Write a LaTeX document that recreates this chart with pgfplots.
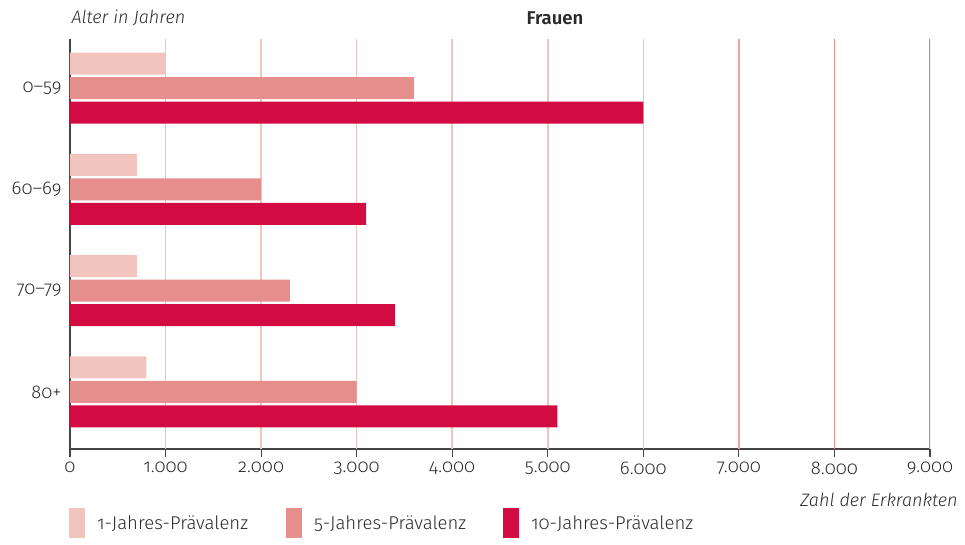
\documentclass[border=0pt]{standalone}
\usepackage{fontspec}
\setmainfont{Fira Sans Light}[Numbers=OldStyle, BoldFont=Fira Sans SemiBold, ItalicFont=Fira Sans Light Italic]
\usepackage{pgfplots}
\pgfplotsset{compat=1.18}
\definecolor{c1}{HTML}{F2C4BE}
\definecolor{c2}{HTML}{E68E8B}
\definecolor{c3}{HTML}{D20C43}
\definecolor{g7}{HTML}{EBA3A1}
\definecolor{g8}{HTML}{E78C8C}
\definecolor{g9}{HTML}{E47B7B}
\definecolor{axg}{HTML}{454545}
\definecolor{txt}{HTML}{2A2A2A}
\begin{document}
\begin{tikzpicture}
\begin{axis}[
  set layers,
  scale only axis, width=860pt, height=410pt,
  xmin=0, xmax=9000, ymin=-0.563, ymax=3.484,
  xbar, bar width=22pt,
  axis x line*=bottom, axis y line*=left,
  axis line style={axg, line width=1.2pt},
  xtick={0,1000,...,9000},
  ytick={0,1,2,3}, yticklabels={80+,70--79,60--69,0--59},
  /pgf/number format/.cd, 1000 sep={.}, assume math mode=true, /pgfplots/.cd,
  major tick length=8pt, tick align=outside,
  ytick style={draw=none},
  xtick style={axg, line width=1.2pt},
  tick label style={font=\fontsize{18.5}{22}\selectfont, text=txt},
  xticklabel style={yshift=-1pt},
  yticklabel style={xshift=3pt},
  legend style={at={(axis description cs:-0.0012,-0.1805)}, anchor=west, draw=none, fill=none,
    inner sep=0pt, column sep=0pt, legend columns=3,
    nodes={inner sep=0pt, font=\fontsize{18.5}{22}\selectfont, text=txt}},
  legend cell align=left,
  legend image code/.code={\fill[#1,draw=none] (0pt,-15pt) rectangle (16pt,15pt);},
]
\draw[on layer=axis background, c1, line width=1.5pt] (axis cs:1000,-0.563) -- (axis cs:1000,3.484);
\draw[on layer=axis background, c1, line width=1.5pt] (axis cs:2000,-0.563) -- (axis cs:2000,3.484);
\draw[on layer=axis background, c1, line width=1.5pt] (axis cs:3000,-0.563) -- (axis cs:3000,3.484);
\draw[on layer=axis background, c1, line width=1.5pt] (axis cs:4000,-0.563) -- (axis cs:4000,3.484);
\draw[on layer=axis background, c1, line width=1.5pt] (axis cs:5000,-0.563) -- (axis cs:5000,3.484);
\draw[on layer=axis background, c1, line width=1.5pt] (axis cs:6000,-0.563) -- (axis cs:6000,3.484);
\draw[on layer=axis background, g7, line width=1.5pt] (axis cs:7000,-0.563) -- (axis cs:7000,3.484);
\draw[on layer=axis background, g8, line width=1.5pt] (axis cs:8000,-0.563) -- (axis cs:8000,3.484);
\draw[on layer=axis background, g9, line width=1.5pt] (axis cs:9000,-0.563) -- (axis cs:9000,3.484);
\addplot[fill=c1, draw=none, bar shift=24.5pt] coordinates {(1000,3) (700,2) (700,1) (800,0)};
\addplot[fill=c2, draw=none, bar shift=0pt] coordinates {(3600,3) (2000,2) (2300,1) (3000,0)};
\addplot[fill=c3, draw=none, bar shift=-24.5pt] coordinates {(6000,3) (3100,2) (3400,1) (5100,0)};
\legend{\makebox[201pt][l]{\hspace*{12pt}1-Jahres-Prävalenz},
        \makebox[201pt][l]{\hspace*{12pt}5-Jahres-Prävalenz},
        \makebox[201pt][l]{\hspace*{12pt}10-Jahres-Prävalenz}}
\end{axis}
\node[anchor=west, font=\fontsize{18}{21}\selectfont\itshape, text=txt] at (-2pt,431pt) {Alter in Jahren};
\node[font=\fontsize{18.5}{22}\selectfont\bfseries, text=txt] at (485pt,431pt) {Frauen};
\node[anchor=east, font=\fontsize{18}{21}\selectfont\itshape, text=txt] at (891pt,-51pt) {Zahl der Erkrankten};
\pgfresetboundingbox
\path[use as bounding box] (-70pt,-96pt) rectangle (895pt,449pt);
\end{tikzpicture}
\end{document}
